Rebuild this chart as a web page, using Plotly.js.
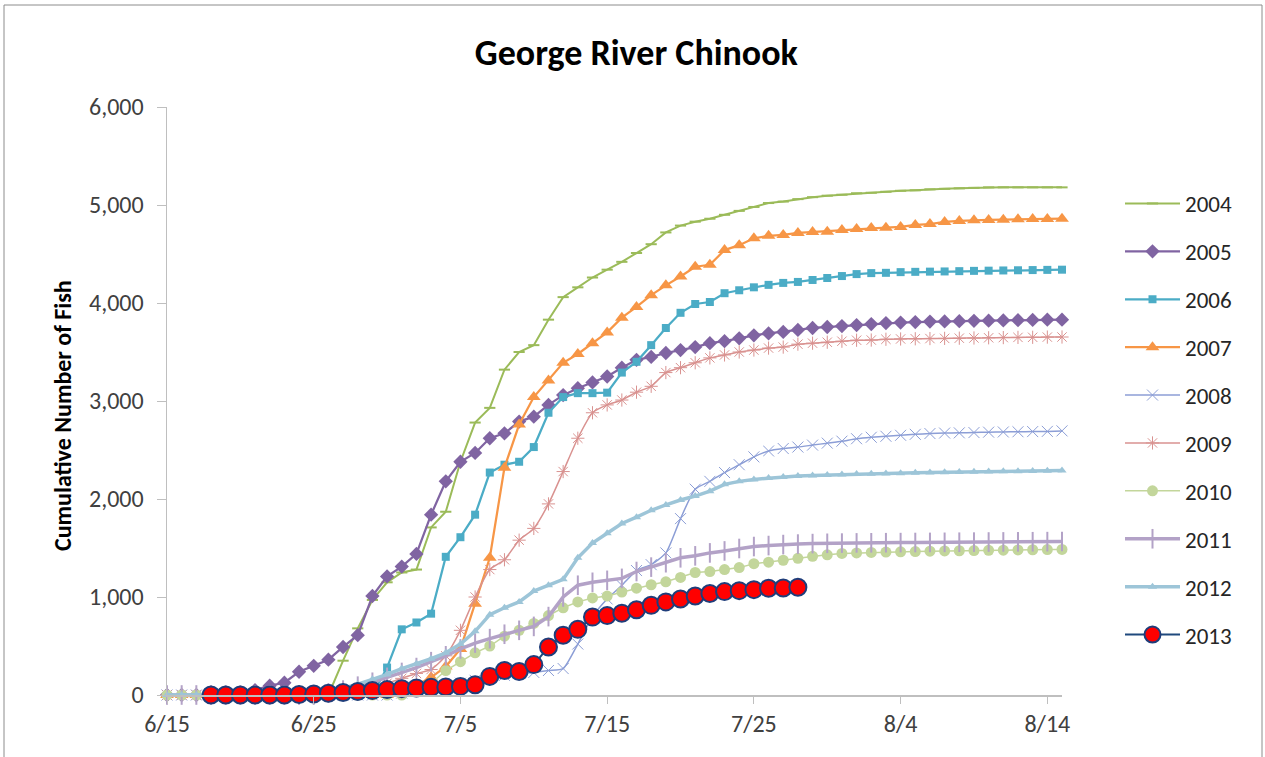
<!DOCTYPE html>
<html>
<head>
<meta charset="utf-8">
<script src="https://cdn.plot.ly/plotly-3.0.1.min.js"></script>
<style>html,body{margin:0;padding:0;background:#fff;} #chart{width:1265px;height:757px;}</style>
</head>
<body>
<div id="chart"></div>
<script>
// Dates: 6/15 .. 8/15 (day by day)
const startDate = "2013-06-15";
const nDays = 62;
const tickDates = ["2013-06-15","2013-06-25","2013-07-05","2013-07-15","2013-07-25","2013-08-04","2013-08-14"];
const tickLabels = ["6/15","6/25","7/5","7/15","7/25","8/4","8/14"];
const years = ["2004","2005","2006","2007","2008","2009","2010","2011","2012","2013"];

const y2004 = [0,0,0,0,0,0,0,0,0,0,0,0,350,680,970,1150,1250,1280,1710,1870,
  2380,2780,2930,3320,3500,3570,3830,4060,4160,4260,
  4340,4420,4510,4600,4720,4790,4830,4860,4900,4940,
  4980,5020,5035,5060,5080,5095,5105,5120,5125,5135,
  5145,5150,5160,5165,5170,5175,5180,5180,5180,5180,5180,5180];
const y2005 = [0,0,0,0,0,20,50,95,125,237,
  298,360,490,610,1010,1210,1310,1440,1840,2180,
  2380,2470,2620,2670,2790,2840,2960,3060,3130,3190,
  3250,3340,3420,3450,3490,3520,3550,3590,3610,3640,
  3670,3690,3705,3725,3745,3755,3765,3775,3785,3795,
  3800,3805,3810,3812,3815,3818,3820,3822,3825,3827,3830,3830];
const y2006 = [0,0,0,0,0,0,0,0,0,0,0,0,0,0,0,280,670,740,830,1410,
  1610,1840,2270,2350,2380,2530,2880,3040,3080,3080,
  3085,3290,3400,3570,3745,3900,3990,4010,4100,4130,
  4160,4185,4205,4215,4235,4255,4275,4295,4305,4308,
  4315,4318,4320,4322,4325,4328,4330,4332,4334,4336,4338,4340];
const y2007 = [0,0,0,0,0,0,0,0,0,0,0,0,0,0,0,0,30,100,180,290,
  470,930,1400,2320,2760,3040,3210,3390,3480,3590,
  3700,3850,3960,4080,4180,4270,4370,4390,4540,4590,
  4660,4685,4695,4715,4725,4728,4745,4755,4765,4768,
  4776,4796,4806,4827,4837,4845,4848,4850,4855,4857,4858,4860];
const y2008 = [0,0,0,0,0,0,0,0,0,0,0,0,0,0,0,0,20,40,60,90,
  120,150,180,200,220,230,250,270,520,800,
  980,1120,1270,1330,1450,1800,2100,2180,2270,2350,
  2430,2490,2515,2530,2550,2570,2590,2615,2630,2640,
  2650,2660,2668,2673,2675,2678,2682,2684,2686,2688,2690,2695];
const y2009 = [0,0,0,0,0,0,0,0,0,0,0,0,20,50,80,120,170,220,260,400,
  660,1000,1280,1380,1580,1700,1950,2280,2620,2880,
  2960,3010,3090,3150,3290,3340,3390,3440,3470,3500,
  3520,3540,3550,3580,3590,3600,3610,3620,3622,3630,
  3633,3635,3637,3639,3641,3643,3645,3647,3649,3650,3652,3653];
const y2010 = [0,0,0,0,0,0,0,0,0,0,0,0,0,0,0,0,0,50,120,250,
  340,430,500,600,660,730,810,890,950,990,
  1010,1050,1090,1125,1155,1200,1250,1260,1280,1300,
  1340,1355,1375,1395,1415,1430,1445,1450,1455,1458,
  1461,1464,1467,1470,1472,1474,1476,1478,1480,1482,1484,1485];
const y2011 = [0,0,0,0,0,0,0,0,0,0,0,20,50,90,130,180,230,280,340,400,
  470,530,575,620,660,700,800,1000,1120,1150,
  1170,1190,1260,1305,1350,1400,1420,1450,1470,1495,
  1515,1525,1535,1540,1545,1548,1550,1552,1553,1554,
  1555,1556,1557,1558,1559,1560,1561,1562,1563,1564,1565,1567];
const y2012 = [0,0,0,0,0,0,0,0,0,0,20,40,70,110,160,210,270,320,370,430,
  520,650,820,890,950,1060,1120,1180,1400,1550,
  1650,1750,1815,1885,1940,1990,2030,2080,2150,2180,
  2200,2214,2224,2235,2240,2245,2250,2255,2258,2261,
  2264,2267,2270,2273,2276,2278,2280,2282,2284,2286,2288,2290];
const y2013 = [null,null,null,0,0,0,0,0,0,5,
  10,18,25,35,45,55,65,72,78,82,
  88,105,190,250,240,310,490,610,670,795,
  810,835,870,915,950,980,1010,1035,1055,1065,
  1075,1090,1092,1100,null,null,null,null,null,null,
  null,null,null,null,null,null,null,null,null,null,null,null];

const dates = [];
{
  const d0 = new Date(startDate + "T00:00:00Z");
  for (let i = 0; i < nDays; i++) {
    const d = new Date(d0.getTime() + i * 86400000);
    dates.push(d.toISOString().slice(0, 10));
  }
}

const seriesVals = [y2004,y2005,y2006,y2007,y2008,y2009,y2010,y2011,y2012,y2013];
const styles = [
  {color:"#9BBB59", width:2,   marker:{symbol:"line-ew-open", size:8, line:{color:"#9BBB59", width:2}}, shape:"linear"},
  {color:"#8064A2", width:2.25,marker:{symbol:"diamond", size:11, color:"#8064A2"}, shape:"linear"},
  {color:"#4BACC6", width:2.25,marker:{symbol:"square", size:8, color:"#4BACC6"}, shape:"linear"},
  {color:"#F79646", width:2.25,marker:{symbol:"triangle-up", size:12, color:"#F79646"}, shape:"linear"},
  {color:"#8C9ED6", width:1.5, marker:{symbol:"x-thin-open", size:11, line:{color:"#B7C3E8", width:1}}, shape:"spline"},
  {color:"#D99290", width:1.5, marker:{symbol:"asterisk-open", size:11, line:{color:"#EDB8B6", width:1}}, shape:"spline"},
  {color:"#C3D69B", width:1.5, marker:{symbol:"circle", size:11, color:"#C3D69B"}, shape:"linear"},
  {color:"#B3A2C7", width:3.5, marker:{symbol:"line-ns-open", size:14, line:{color:"#B3A2C7", width:2}}, shape:"linear"},
  {color:"#9DC5D8", width:3.5, marker:{symbol:"triangle-up", size:8, color:"#9DC5D8"}, shape:"linear"},
  {color:"#1F497D", width:2,   marker:{symbol:"circle", size:17, color:"#FF0000", line:{color:"#1F3D7A", width:2}}, shape:"linear"}
];

const traces = years.map((yr, i) => ({
  type: "scatter",
  mode: "lines+markers",
  name: yr,
  legendgroup: "g" + yr,
  x: dates,
  y: seriesVals[i],
  line: {color: styles[i].color, width: styles[i].width, shape: styles[i].shape, smoothing: 0.6},
  marker: styles[i].marker,
  cliponaxis: false,
  connectgaps: false,
  hoverinfo: "x+y+name"
}));

const F = "Carlito, Lato, 'Liberation Sans', sans-serif";
const L = 167, R = 1062, T = 107, B = 695, W = 1265, H = 757;
const pw = R - L, ph = B - T;

const layout = {
  width: W, height: H,
  margin: {l: L, r: W - R, t: T, b: H - B, pad: 0},
  paper_bgcolor: "#fff", plot_bgcolor: "#fff",
  font: {family: F, color: "#404040", size: 24},
  title: {text: "<b>George River Chinook</b>", font: {family: F, size: 36, color: "#000"},
          xref: "container", x: 0.503, xanchor: "center", yref: "container", y: 1 - 52/H, yanchor: "middle"},
  xaxis: {
    type: "date",
    range: ["2013-06-15", "2013-08-15"],
    tickvals: tickDates, ticktext: tickLabels,
    ticks: "outside", ticklen: 7, tickcolor: "#BFBFBF", tickwidth: 1,
    showline: true, linecolor: "#BFBFBF", linewidth: 1.5,
    showgrid: false, zeroline: false,
    tickfont: {family: F, size: 24, color: "#404040"},
    fixedrange: true
  },
  yaxis: {
    range: [0, 6000],
    tickvals: [0,1000,2000,3000,4000,5000,6000],
    tickformat: ",d",
    ticks: "outside", ticklen: 9, tickcolor: "#BFBFBF", tickwidth: 1,
    ticklabelstandoff: 8,
    showline: true, linecolor: "#BFBFBF", linewidth: 1.5,
    showgrid: false, zeroline: false,
    tickfont: {family: F, size: 24, color: "#404040"},
    fixedrange: true
  },
  annotations: [{
    text: "<b>Cumulative Number of Fish</b>",
    textangle: -90,
    xref: "paper", yref: "paper",
    x: (62 - L) / pw, y: (B - 416) / ph,
    xanchor: "center", yanchor: "middle",
    showarrow: false,
    font: {family: F, size: 24, color: "#000"}
  }],
  legend: {
    x: (1120 - L) / pw, xanchor: "left",
    y: (B - 182) / ph, yanchor: "top",
    font: {family: F, size: 23, color: "#262626"},
    traceorder: "grouped",
    tracegroupgap: 15,
    itemwidth: 55,
    bgcolor: "rgba(0,0,0,0)"
  },
  shapes: [{
    type: "rect", xref: "paper", yref: "paper",
    x0: (4 - L) / pw, x1: (1262 - L) / pw,
    y0: (B - 770) / ph, y1: (B - 5) / ph,
    line: {color: "#8C8C8C", width: 1}, fillcolor: "rgba(0,0,0,0)", layer: "below"
  }],
  showlegend: true
};

Plotly.newPlot("chart", traces, layout, {displayModeBar: false, staticPlot: true});
</script>
</body>
</html>
